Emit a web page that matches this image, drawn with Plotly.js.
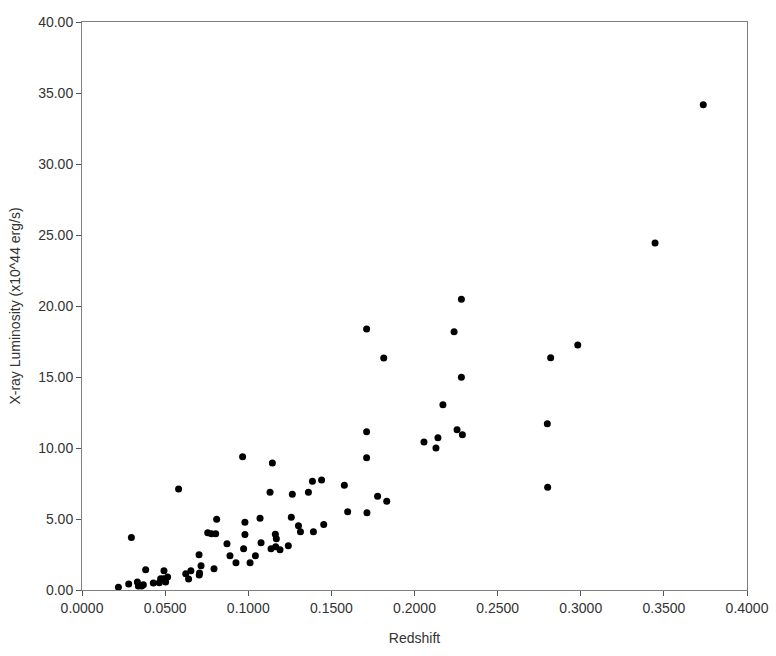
<!DOCTYPE html>
<html>
<head>
<meta charset="utf-8">
<script src="https://cdn.plot.ly/plotly-3.0.1.min.js"></script>
<style>
  body { margin: 0; background: #fff; }
  #plot { width: 776px; height: 656px; }
</style>
</head>
<body>
<div id="plot"></div>
<script>
// cluster redshift vs X-ray luminosity (x10^44 erg/s)
let redshift = [
  0.0219, 0.0281, 0.0297, 0.0333, 0.0339, 0.0359, 0.0369, 0.0383, 0.0429, 0.0465,
  0.0473, 0.0489, 0.0493, 0.0503, 0.0515, 0.0581, 0.0624, 0.0641, 0.0655, 0.0704,
  0.0716, 0.0705, 0.0707, 0.0756, 0.0778, 0.0804, 0.0810, 0.0794, 0.0872, 0.0890,
  0.0926, 0.0966, 0.0980, 0.0980, 0.0972, 0.1011, 0.1043, 0.1071, 0.1077, 0.1131,
  0.1137, 0.1145, 0.1163, 0.1169, 0.1165, 0.1191, 0.1241, 0.1259, 0.1265, 0.1302,
  0.1314, 0.1362, 0.1386, 0.1392, 0.1441, 0.1454, 0.1578, 0.1598, 0.1712, 0.1712,
  0.1712, 0.1714, 0.1778, 0.1815, 0.1833, 0.2057, 0.2129, 0.2141, 0.2171, 0.2238,
  0.2256, 0.2282, 0.2282, 0.2288, 0.2799, 0.2801, 0.2819, 0.2982, 0.3447, 0.3737
];
let luminosity = [
  0.19, 0.42, 3.69, 0.56, 0.28, 0.28, 0.37, 1.43, 0.49, 0.51,
  0.80, 0.80, 1.36, 0.56, 0.92, 7.11, 1.15, 0.78, 1.35, 2.48,
  1.71, 1.05, 1.20, 4.04, 3.97, 3.97, 4.98, 1.50, 3.26, 2.42,
  1.92, 9.39, 4.77, 3.90, 2.91, 1.92, 2.42, 5.05, 3.33, 6.88,
  2.91, 8.94, 3.92, 3.61, 3.05, 2.84, 3.12, 5.12, 6.74, 4.53,
  4.11, 6.88, 7.65, 4.11, 7.75, 4.62, 7.37, 5.51, 18.38, 11.15,
  9.32, 5.44, 6.60, 16.34, 6.25, 10.42, 10.00, 10.73, 13.05, 18.19,
  11.29, 14.98, 20.47, 10.94, 11.71, 7.23, 16.36, 17.25, 24.44, 34.18
];

let trace = {
  x: redshift,
  y: luminosity,
  type: "scatter",
  mode: "markers",
  marker: { color: "#000", size: 7 },
  hoverinfo: "x+y",
};

let axisFont = { family: "Liberation Sans, Arial, sans-serif", size: 14, color: "#333" };

let layout = {
  width: 776,
  height: 656,
  margin: { l: 82, r: 29, t: 22, b: 66 },
  paper_bgcolor: "#fff",
  plot_bgcolor: "#fff",
  showlegend: false,
  font: axisFont,
  xaxis: {
    title: { text: "Redshift", font: axisFont, standoff: 18 },
    range: [0, 0.4],
    dtick: 0.05,
    tick0: 0,
    tickformat: ".4f",
    showgrid: false,
    zeroline: false,
    showline: true,
    mirror: true,
    linecolor: "#808080",
    linewidth: 1,
    ticks: "outside",
    ticklen: 5,
    tickcolor: "#555",
    tickfont: axisFont,
  },
  yaxis: {
    title: { text: "X-ray Luminosity (x10^44 erg/s)", font: axisFont, standoff: 14 },
    range: [0, 40],
    dtick: 5,
    tick0: 0,
    tickformat: ".2f",
    showgrid: false,
    zeroline: false,
    showline: true,
    mirror: true,
    linecolor: "#808080",
    linewidth: 1,
    ticks: "outside",
    ticklen: 5,
    tickcolor: "#555",
    tickfont: axisFont,
  },
};

Plotly.newPlot("plot", [trace], layout, { displayModeBar: false, staticPlot: true });
</script>
</body>
</html>
